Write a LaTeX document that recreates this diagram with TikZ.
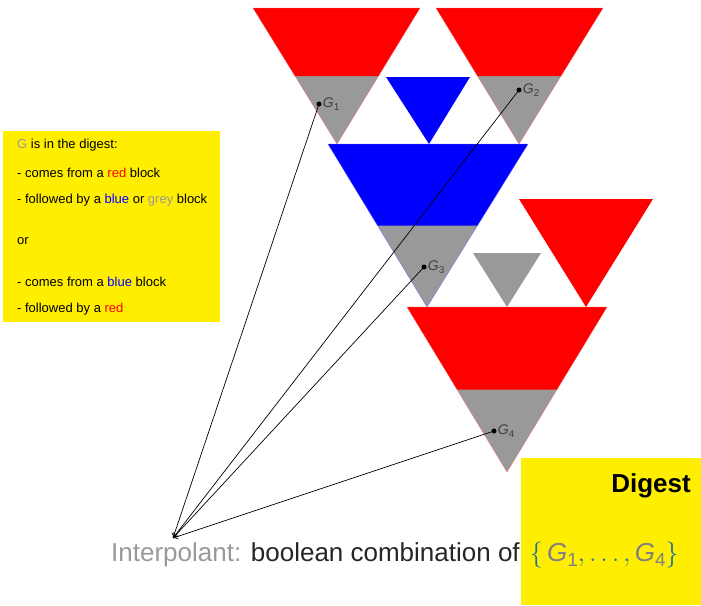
\RequirePackage{fix-cm}
\documentclass[tikz,border=0pt]{standalone}
\usepackage{fontspec}
\setmainfont{Liberation Sans}
\usetikzlibrary{calc,arrows.meta}
\definecolor{dyellow}{rgb}{1,0.933,0}
\definecolor{dgrey}{gray}{0.6}
\definecolor{sgrey}{gray}{0.5}
\definecolor{lblgrey}{gray}{0.25}
\definecolor{dteal}{rgb}{0.1,0.45,0.6}
\newcommand\glbl[1]{\textit{G}\raisebox{-3pt}{\fontsize{10}{10}\selectfont #1}}
\newcommand\gset[1]{\textit{G}\raisebox{-5pt}{\fontsize{19}{19}\selectfont #1}}
\begin{document}
\begin{tikzpicture}[x=1pt,y=-1pt,
  boxtext/.style={anchor=base west, inner sep=0pt, font=\fontsize{13}{15}\selectfont},
  gdot/.style={circle, fill=black, inner sep=0pt, minimum size=5pt},
  glabel/.style={anchor=west, inner sep=1pt, font=\fontsize{14}{15}\selectfont, text=lblgrey},
  link/.style={-{To[length=5pt,width=6pt]}, line width=0.7pt},
  redline/.style={draw=red!60, line width=0.3pt},
  blueline/.style={draw=blue!60, line width=0.3pt}
]
\useasboundingbox (0,0) rectangle (701,605);

% ---- triangle 1 (red over grey)
\coordinate (t1l) at (253,8); \coordinate (t1r) at (420,8); \coordinate (t1a) at (337,144);
\fill[dgrey] (t1l) -- (t1r) -- (t1a) -- cycle;
\fill[red] (t1l) -- (t1r) -- ($(t1r)!0.5!(t1a)$) -- ($(t1l)!0.5!(t1a)$) -- cycle;
\draw[redline] (t1l) -- (t1r) -- (t1a) -- cycle;
% ---- triangle 2 (red over grey)
\coordinate (t2l) at (436,8); \coordinate (t2r) at (603,8); \coordinate (t2a) at (519,144);
\fill[dgrey] (t2l) -- (t2r) -- (t2a) -- cycle;
\fill[red] (t2l) -- (t2r) -- ($(t2r)!0.5!(t2a)$) -- ($(t2l)!0.5!(t2a)$) -- cycle;
\draw[redline] (t2l) -- (t2r) -- (t2a) -- cycle;
% ---- small blue triangle
\fill[blue] (386,77) -- (470,77) -- (429,144) -- cycle;
% ---- big blue over grey
\coordinate (t3l) at (328,144); \coordinate (t3r) at (528,144); \coordinate (t3a) at (427,307);
\fill[dgrey] (t3l) -- (t3r) -- (t3a) -- cycle;
\fill[blue] (t3l) -- (t3r) -- ($(t3r)!0.5!(t3a)$) -- ($(t3l)!0.5!(t3a)$) -- cycle;
\draw[blueline] (t3l) -- (t3r) -- (t3a) -- cycle;
% ---- small grey triangle
\fill[dgrey] (473,253) -- (541,253) -- (507,307) -- cycle;
% ---- right red triangle
\fill[red] (519,199) -- (653,199) -- (586,307) -- cycle;
% ---- bottom red over grey
\coordinate (t4l) at (407,307); \coordinate (t4r) at (607,307); \coordinate (t4a) at (507,472);
\fill[dgrey] (t4l) -- (t4r) -- (t4a) -- cycle;
\fill[red] (t4l) -- (t4r) -- ($(t4r)!0.5!(t4a)$) -- ($(t4l)!0.5!(t4a)$) -- cycle;
\draw[redline] (t4l) -- (t4r) -- (t4a) -- cycle;

% ---- left explanation box
\fill[dyellow] (3,131) rectangle (220,322);
\node[boxtext] (l1) at (17,148) {\textcolor{dgrey}{G} is in the digest:};
\node[boxtext] (l2) at (17,177) {- comes from a \textcolor{red}{red} block};
\node[boxtext] (l3) at (17,203) {- followed by a \textcolor{blue}{blue} or \textcolor{dgrey}{grey} block};
\node[boxtext] (l4) at (17,244) {or};
\node[boxtext] (l5) at (17,286) {- comes from a \textcolor{blue}{blue} block};
\node[boxtext] (l6) at (17,312) {- followed by a \textcolor{red}{red}};

% ---- digest box
\fill[dyellow] (521,458) rectangle (701,605);
\node[anchor=base east, inner sep=0pt, font=\fontsize{26}{30}\selectfont\bfseries] (dig) at (691,492) {Digest};

% ---- interpolant line
\node[anchor=base west, inner sep=0pt, font=\fontsize{26}{30}\selectfont] (interp) at (111,561)
  {\textcolor{dgrey}{Interpolant:} \textcolor{black!85}{boolean combination of}\hspace{10pt}\textcolor{dteal}{$\{$}\,\textcolor{sgrey}{\gset{1}}\textcolor{dteal}{$,\ldots,$}\,\textcolor{sgrey}{\gset{4}}\textcolor{dteal}{$\}$}};
\coordinate (ip) at (173,538);

% ---- G dots and labels
\node[gdot] (g1) at (319,104) {};
\node[gdot] (g2) at (519,90) {};
\node[gdot] (g3) at (424,267) {};
\node[gdot] (g4) at (494,431) {};
\node[glabel] (g1l) at (g1.east) {\glbl{1}};
\node[glabel] (g2l) at (g2.east) {\glbl{2}};
\node[glabel] (g3l) at (g3.east) {\glbl{3}};
\node[glabel] (g4l) at (g4.east) {\glbl{4}};

\draw[link] (g1.center) -- (ip);
\draw[link] (g2.center) -- (ip);
\draw[link] (g3.center) -- (ip);
\draw[link] (g4.center) -- (ip);
\end{tikzpicture}
\end{document}
